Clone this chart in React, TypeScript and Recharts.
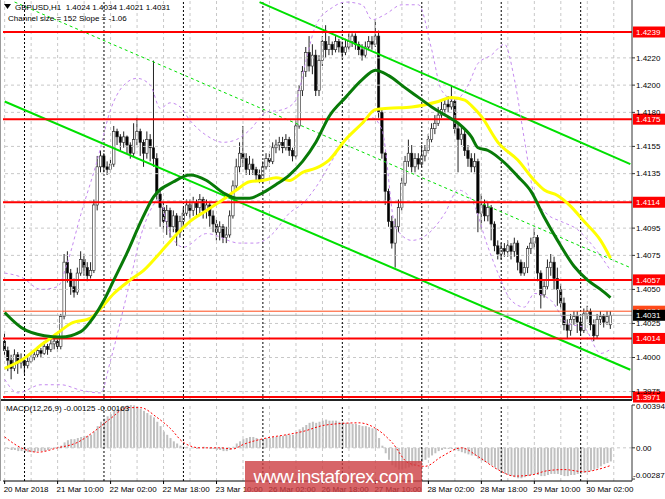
import { ComposedChart, Bar, Line, XAxis, YAxis, ReferenceLine } from "recharts";

const FONT = "'Liberation Sans', Arial, sans-serif";
const SLOTS = 190; // 184 hourly bars + empty shift on the right

// GBPUSD H1, [open, high, low, close], 20 Mar 18:00 .. 30 Mar 09:00
const ohlc: [number, number, number, number][] = [
  [1.4012, 1.4018, 1.4002, 1.4005], [1.4005, 1.4008, 1.399, 1.3998], [1.3998, 1.4002, 1.3984, 1.3992], [1.3992, 1.4006, 1.399, 1.4002],
  [1.4002, 1.4004, 1.3988, 1.3996], [1.3996, 1.4003, 1.3992, 1.3998], [1.3998, 1.4, 1.3988, 1.3994], [1.3994, 1.4001, 1.3992, 1.3997],
  [1.3997, 1.4003, 1.3996, 1.4], [1.4, 1.4005, 1.3998, 1.4002], [1.4002, 1.4008, 1.4, 1.4005], [1.4005, 1.4007, 1.4, 1.4003],
  [1.4003, 1.4012, 1.4002, 1.4008], [1.4008, 1.401, 1.4002, 1.4006], [1.4006, 1.4014, 1.4004, 1.401], [1.401, 1.4015, 1.4006, 1.4012],
  [1.4012, 1.4014, 1.4004, 1.4008], [1.4008, 1.4032, 1.4006, 1.403], [1.403, 1.4076, 1.4028, 1.407], [1.407, 1.4078, 1.4055, 1.4062],
  [1.4062, 1.4065, 1.4046, 1.4052], [1.4052, 1.4058, 1.4044, 1.4048], [1.4048, 1.4066, 1.4046, 1.4062], [1.4062, 1.4078, 1.406, 1.4072],
  [1.4072, 1.4076, 1.406, 1.4066], [1.4066, 1.407, 1.4056, 1.406], [1.406, 1.407, 1.4058, 1.4064], [1.4064, 1.4116, 1.4062, 1.4112],
  [1.4112, 1.4148, 1.4108, 1.414], [1.414, 1.4152, 1.4136, 1.4148], [1.4148, 1.415, 1.4136, 1.414], [1.414, 1.4144, 1.4134, 1.4138],
  [1.4138, 1.4146, 1.4136, 1.4142], [1.4142, 1.417, 1.414, 1.4166], [1.4166, 1.4168, 1.4156, 1.4162], [1.4162, 1.4164, 1.4152, 1.4158],
  [1.4158, 1.4166, 1.4154, 1.4162], [1.4162, 1.4163, 1.415, 1.4156], [1.4156, 1.4158, 1.4146, 1.415], [1.415, 1.4172, 1.4148, 1.416],
  [1.416, 1.4176, 1.4156, 1.4166], [1.4166, 1.4168, 1.4148, 1.4158], [1.4158, 1.416, 1.414, 1.415], [1.415, 1.4166, 1.4146, 1.416],
  [1.416, 1.4164, 1.4144, 1.4154], [1.4154, 1.4218, 1.414, 1.4146], [1.4146, 1.415, 1.4116, 1.412], [1.412, 1.4124, 1.4096, 1.411],
  [1.411, 1.4114, 1.4092, 1.41], [1.41, 1.4112, 1.409, 1.4108], [1.4108, 1.411, 1.4088, 1.4096], [1.4096, 1.4108, 1.4092, 1.4104],
  [1.4104, 1.4106, 1.4082, 1.4092], [1.4092, 1.4104, 1.4088, 1.41], [1.41, 1.411, 1.4096, 1.4106], [1.4106, 1.4116, 1.4104, 1.4112],
  [1.4112, 1.4116, 1.4102, 1.4108], [1.4108, 1.4118, 1.4104, 1.4114], [1.4114, 1.4116, 1.4104, 1.411], [1.411, 1.412, 1.4106, 1.4116],
  [1.4116, 1.4118, 1.4102, 1.4108], [1.4108, 1.4116, 1.4102, 1.4112], [1.4112, 1.4114, 1.4096, 1.4104], [1.4104, 1.4108, 1.4092, 1.4098],
  [1.4098, 1.4102, 1.4086, 1.4092], [1.4092, 1.41, 1.4086, 1.4096], [1.4096, 1.4098, 1.4084, 1.4088], [1.4088, 1.4096, 1.4084, 1.409],
  [1.409, 1.4108, 1.4088, 1.4104], [1.4104, 1.413, 1.4102, 1.4126], [1.4126, 1.4146, 1.4124, 1.414], [1.414, 1.4158, 1.4136, 1.415],
  [1.415, 1.417, 1.414, 1.4146], [1.4146, 1.415, 1.4134, 1.4138], [1.4138, 1.4148, 1.4134, 1.4142], [1.4142, 1.4146, 1.4134, 1.4138],
  [1.4138, 1.414, 1.413, 1.4134], [1.4134, 1.4138, 1.4128, 1.413], [1.413, 1.4144, 1.4128, 1.414], [1.414, 1.415, 1.4138, 1.4146],
  [1.4146, 1.415, 1.414, 1.4144], [1.4144, 1.4158, 1.4142, 1.4154], [1.4154, 1.416, 1.415, 1.4156], [1.4156, 1.4162, 1.4152, 1.4158],
  [1.4158, 1.4162, 1.415, 1.4154], [1.4154, 1.4164, 1.4152, 1.416], [1.416, 1.4162, 1.4148, 1.4152], [1.4152, 1.4154, 1.4144, 1.4148],
  [1.4148, 1.4174, 1.4146, 1.417], [1.417, 1.42, 1.4168, 1.4196], [1.4196, 1.4214, 1.4192, 1.421], [1.421, 1.4228, 1.4206, 1.4224],
  [1.4224, 1.4236, 1.421, 1.4214], [1.4214, 1.423, 1.4208, 1.4222], [1.4222, 1.4226, 1.4192, 1.4196], [1.4196, 1.4222, 1.4192, 1.4218],
  [1.4218, 1.4236, 1.4214, 1.4232], [1.4232, 1.4244, 1.422, 1.4226], [1.4226, 1.4236, 1.4222, 1.423], [1.423, 1.4232, 1.4222, 1.4226],
  [1.4226, 1.4236, 1.4224, 1.4232], [1.4232, 1.4234, 1.4224, 1.4228], [1.4228, 1.4232, 1.422, 1.4224], [1.4224, 1.4234, 1.4222, 1.4228],
  [1.4228, 1.4238, 1.4226, 1.4232], [1.4232, 1.4238, 1.4228, 1.4236], [1.4236, 1.4238, 1.4226, 1.423], [1.423, 1.4232, 1.4222, 1.4226],
  [1.4226, 1.423, 1.4218, 1.4222], [1.4222, 1.4232, 1.422, 1.4228], [1.4228, 1.4236, 1.4226, 1.4232], [1.4232, 1.4236, 1.4226, 1.423],
  [1.423, 1.4248, 1.4228, 1.4236], [1.4236, 1.424, 1.4176, 1.418], [1.418, 1.4182, 1.4146, 1.415], [1.415, 1.4151, 1.4112, 1.4122],
  [1.4122, 1.4124, 1.4096, 1.41], [1.41, 1.4104, 1.408, 1.4084], [1.4084, 1.4102, 1.4066, 1.4096], [1.4096, 1.4116, 1.4092, 1.411],
  [1.411, 1.4132, 1.4108, 1.4128], [1.4128, 1.4148, 1.4126, 1.4144], [1.4144, 1.416, 1.414, 1.415], [1.415, 1.4156, 1.4136, 1.414],
  [1.414, 1.415, 1.4136, 1.4146], [1.4146, 1.415, 1.4138, 1.4142], [1.4142, 1.4156, 1.414, 1.4148], [1.4148, 1.4156, 1.4144, 1.4152],
  [1.4152, 1.4164, 1.415, 1.416], [1.416, 1.4172, 1.4158, 1.4168], [1.4168, 1.4178, 1.4164, 1.4172], [1.4172, 1.4184, 1.417, 1.4178],
  [1.4178, 1.4188, 1.4176, 1.4182], [1.4182, 1.419, 1.4178, 1.4186], [1.4186, 1.4192, 1.418, 1.4184], [1.4184, 1.42, 1.4182, 1.4188],
  [1.4188, 1.419, 1.4164, 1.4168], [1.4168, 1.4172, 1.4136, 1.416], [1.416, 1.417, 1.4156, 1.4164], [1.4164, 1.4168, 1.4148, 1.4152],
  [1.4152, 1.4156, 1.414, 1.4146], [1.4146, 1.415, 1.4136, 1.414], [1.414, 1.415, 1.4136, 1.4144], [1.4144, 1.4146, 1.4092, 1.4106],
  [1.4106, 1.412, 1.4094, 1.4112], [1.4112, 1.4116, 1.41, 1.4104], [1.4104, 1.4114, 1.41, 1.411], [1.411, 1.4112, 1.4086, 1.4098],
  [1.4098, 1.41, 1.4078, 1.4082], [1.4082, 1.4086, 1.4072, 1.4076], [1.4076, 1.4084, 1.4072, 1.408], [1.408, 1.4084, 1.4074, 1.4078],
  [1.4078, 1.4086, 1.4074, 1.4082], [1.4082, 1.4084, 1.4072, 1.4078], [1.4078, 1.4088, 1.4074, 1.4084], [1.4084, 1.4086, 1.4064, 1.407],
  [1.407, 1.4072, 1.406, 1.4062], [1.4062, 1.407, 1.406, 1.4066], [1.4066, 1.4082, 1.4062, 1.408], [1.408, 1.4088, 1.4076, 1.4084],
  [1.4084, 1.4095, 1.408, 1.4088], [1.4088, 1.409, 1.4056, 1.4062], [1.4062, 1.4064, 1.4036, 1.4046], [1.4046, 1.4056, 1.4044, 1.4052],
  [1.4052, 1.4072, 1.405, 1.4066], [1.4066, 1.4076, 1.406, 1.407], [1.407, 1.4074, 1.405, 1.4058], [1.4058, 1.4066, 1.4038, 1.405],
  [1.405, 1.4054, 1.4036, 1.404], [1.404, 1.4044, 1.402, 1.4024], [1.4024, 1.4028, 1.4014, 1.402], [1.402, 1.4032, 1.4016, 1.4028],
  [1.4028, 1.4034, 1.4024, 1.403], [1.403, 1.4034, 1.4018, 1.4026], [1.4026, 1.403, 1.4016, 1.402], [1.402, 1.4036, 1.4018, 1.4032],
  [1.4032, 1.4038, 1.4028, 1.4034], [1.4034, 1.4036, 1.402, 1.4024], [1.4024, 1.4028, 1.4012, 1.4016], [1.4016, 1.4032, 1.4014, 1.4028],
  [1.4028, 1.4034, 1.4024, 1.403], [1.403, 1.4032, 1.4022, 1.4026], [1.4026, 1.4034, 1.4024, 1.403], [1.4024, 1.4034, 1.4021, 1.4031],
];

// MACD(12,26,9) main histogram, one per bar
const macdHist = [
  -0.00005, -0.0001, -0.0002, -0.0002, -0.0003, -0.0003, -0.0004, -0.0004, -0.0004, -0.0004, -0.0003, -0.0003, -0.0003, -0.0002, -0.0001, 0,
  0.0001, 0.0002, 0.0005, 0.0007, 0.0008, 0.0008, 0.0009, 0.001, 0.0011, 0.0011, 0.0012, 0.0015, 0.002, 0.0024, 0.0027, 0.0029,
  0.0031, 0.0034, 0.0036, 0.0037, 0.0038, 0.0039, 0.00394, 0.0039, 0.0038, 0.0036, 0.0034, 0.0032, 0.003, 0.0028, 0.0024, 0.002,
  0.0015, 0.0012, 0.0009, 0.0006, 0.0004, 0.0002, 0.0001, 0.0001, 0, 0, -0.0001, 0, 0.0001, 0, -0.0001, -0.0001,
  -0.0002, -0.0002, -0.0003, -0.0003, -0.0002, 0.0001, 0.0004, 0.0006, 0.0008, 0.0009, 0.001, 0.001, 0.0009, 0.0008, 0.0008, 0.0009,
  0.0009, 0.001, 0.001, 0.0011, 0.0011, 0.0012, 0.0012, 0.0012, 0.0014, 0.0017, 0.0019, 0.0021, 0.0023, 0.0024, 0.0023, 0.0024,
  0.0025, 0.0026, 0.0025, 0.0025, 0.0025, 0.0024, 0.0024, 0.0023, 0.0023, 0.0022, 0.0022, 0.0021, 0.002, 0.002, 0.0019, 0.0018,
  0.0018, 0.0009, 0.0002, -0.0005, -0.0011, -0.0016, -0.0018, -0.002, -0.002, -0.0019, -0.0018, -0.0017, -0.0016, -0.0014, -0.0013, -0.0011,
  -0.0009, -0.0007, -0.0005, -0.0003, -0.0002, -0.0001, -0.0001, -0.0001, -0.0002, -0.0003, -0.0004, -0.0005, -0.0006, -0.0007, -0.0007, -0.001,
  -0.0012, -0.0013, -0.0014, -0.0016, -0.0018, -0.002, -0.0022, -0.0024, -0.0025, -0.0026, -0.0027, -0.0028, -0.0028, -0.0027, -0.0026, -0.0025,
  -0.0024, -0.0025, -0.0026, -0.0026, -0.0025, -0.0024, -0.0024, -0.0024, -0.0025, -0.0026, -0.0026, -0.0025, -0.0025, -0.0024, -0.0024, -0.0023,
  -0.0022, -0.0021, -0.002, -0.0019, -0.0017, -0.0015, -0.0014, -0.00125,
];

// [bar index, value]
const macdSignal: [number, number][] = [
  [0, 0.001], [5, 0], [10, -0.0004], [16, 0], [22, 0.0005], [27, 0.0015], [32, 0.0027], [37, 0.0037], [41, 0.0037],
  [46, 0.0028], [50, 0.0018], [54, 0.0005], [59, 0], [65, 0], [69, -0.0001], [72, 0.0003], [79, 0.0009], [85, 0.0012],
  [90, 0.0015], [97, 0.0021], [107, 0.0023], [113, 0.0016], [117, 0.0005], [122, -0.0014], [127, -0.0017], [132, -0.0008],
  [138, 0], [143, -0.0008], [149, -0.002], [154, -0.0026], [159, -0.0025], [164, -0.0021], [169, -0.002], [175, -0.0022],
  [179, -0.002], [183, -0.00163],
];

const greenMA: [number, number][] = [
  [0, 1.4033], [5, 1.4022], [12, 1.4016], [17, 1.4015], [23, 1.4019], [27, 1.403], [30, 1.4042], [33, 1.4057], [37, 1.4077],
  [41, 1.4099], [45, 1.4118], [51, 1.4129], [56, 1.4134], [61, 1.413], [66, 1.4121], [70, 1.4117], [74, 1.4117], [78, 1.4121],
  [82, 1.4127], [86, 1.4134], [90, 1.4144], [94, 1.4158], [98, 1.4177], [103, 1.4191], [108, 1.4204], [112, 1.4211], [116, 1.4207],
  [121, 1.4198], [125, 1.4191], [129, 1.4184], [133, 1.4178], [137, 1.4172], [141, 1.4162], [143, 1.4154], [146, 1.4152],
  [151, 1.4143], [155, 1.4133], [159, 1.4122], [163, 1.4103], [167, 1.4086], [172, 1.4067], [176, 1.4057], [180, 1.405], [183, 1.4044],
];

const yellowMA: [number, number][] = [
  [0, 1.3992], [5, 1.3998], [12, 1.4011], [16, 1.4018], [20, 1.4025], [26, 1.4029], [29, 1.4036], [33, 1.4047], [38, 1.4057],
  [42, 1.4064], [47, 1.4077], [51, 1.4088], [56, 1.41], [61, 1.4108], [66, 1.4116], [70, 1.4123], [74, 1.4129], [78, 1.413],
  [82, 1.4132], [86, 1.413], [90, 1.4136], [94, 1.4139], [98, 1.4145], [103, 1.416], [108, 1.4172], [112, 1.4182], [116, 1.4183],
  [123, 1.4184], [131, 1.4188], [135, 1.4191], [139, 1.4189], [141, 1.4185], [144, 1.4177], [149, 1.4158], [155, 1.4145],
  [160, 1.413], [163, 1.4123], [167, 1.4119], [171, 1.4111], [175, 1.41], [180, 1.4086], [183, 1.4073],
];

const bandUpper: [number, number][] = [
  [0, 1.4062], [5, 1.4059], [11, 1.405], [16, 1.4052], [19, 1.407], [23, 1.4105], [28, 1.4145], [32, 1.4182], [36, 1.42],
  [40, 1.4205], [44, 1.42], [47, 1.4183], [50, 1.4187], [53, 1.4184], [56, 1.4174], [61, 1.4163], [66, 1.4158], [70, 1.416],
  [74, 1.4167], [79, 1.418], [84, 1.4182], [88, 1.4189], [91, 1.4218], [94, 1.4244], [99, 1.4257], [103, 1.4261], [108, 1.4259],
  [111, 1.4248], [115, 1.4252], [120, 1.4259], [125, 1.4259], [129, 1.4226], [132, 1.4196], [136, 1.4189], [140, 1.42],
  [143, 1.4216], [147, 1.4222], [151, 1.423], [154, 1.4204], [157, 1.416], [160, 1.4119], [164, 1.4105], [168, 1.41],
  [173, 1.4094], [178, 1.4081], [183, 1.4064],
];

const bandLower: [number, number][] = [
  [0, 1.3984], [4, 1.3974], [11, 1.398], [17, 1.398], [23, 1.3976], [29, 1.3974], [32, 1.3998], [37, 1.4047], [42, 1.4096],
  [47, 1.4116], [49, 1.4097], [54, 1.4081], [61, 1.4091], [71, 1.4084], [76, 1.4084], [81, 1.4091], [86, 1.4106], [90, 1.4113],
  [94, 1.4125], [99, 1.4145], [103, 1.416], [108, 1.4171], [111, 1.4176], [114, 1.4167], [118, 1.4096], [123, 1.4086],
  [128, 1.4091], [133, 1.4106], [137, 1.4123], [141, 1.4116], [146, 1.4081], [149, 1.4062], [153, 1.4042], [157, 1.4037],
  [160, 1.4047], [165, 1.4042], [170, 1.4025], [175, 1.4022], [180, 1.4003], [183, 1.4006],
];

// regression channel (two ends each)
const channelUpper: [number, number][] = [[77, 1.4261], [189, 1.4142]];
const channelMid: [number, number][] = [[3, 1.4261], [189, 1.4066]];
const channelLower: [number, number][] = [[0, 1.4188], [189, 1.3991]];

const levels = [1.4239, 1.4175, 1.4114, 1.4057, 1.4014, 1.3971];
const askPrice = 1.4034;
const bidPrice = 1.4031;
const priceTicks = [1.422, 1.42, 1.418, 1.4155, 1.4135, 1.4095, 1.4075, 1.405, 1.4025, 1.4, 1.3975];
const gridPrices = [...priceTicks, 1.4115];
const macdTicks = [0.00394, 0, -0.00287];
const daySeps = [6, 30, 54, 78, 102, 126, 150, 174];
const timeIdx = [0, 16, 32, 48, 64, 80, 96, 112, 128, 144, 160, 176];
const timeLabels = [
  "20 Mar 2018", "21 Mar 10:00", "22 Mar 02:00", "22 Mar 18:00", "23 Mar 10:00", "26 Mar 02:00",
  "26 Mar 18:00", "27 Mar 10:00", "28 Mar 02:00", "28 Mar 18:00", "29 Mar 10:00", "30 Mar 02:00",
];
const gridIdx = Array.from({ length: 24 }, (_, k) => k * 8);

const rows: Record<string, any>[] = Array.from({ length: SLOTS }, (_, i) => ({ i }));
ohlc.forEach(([o, h, l, c], i) => Object.assign(rows[i], { o, h, l, c, range: [l, h], macd: macdHist[i] }));
const put = (pts: [number, number][], key: string) => pts.forEach(([i, v]) => (rows[i][key] = v));
put(greenMA, "ma1");
put(yellowMA, "ma2");
put(bandUpper, "bbUp");
put(bandLower, "bbLo");
put(macdSignal, "signal");

const seg = (pts: [number, number][]) => pts.map(([x, y]) => ({ x, y }));

function Candle(props: any) {
  const { x, y, width, height, payload } = props;
  if (!payload || payload.o == null || !height) return null;
  const { o, h, l, c } = payload;
  const k = height / (h - l);
  const cx = x + width / 2;
  const top = y + (h - Math.max(o, c)) * k;
  const bot = y + (h - Math.min(o, c)) * k;
  const up = c >= o;
  return (
    <g>
      <line x1={cx} x2={cx} y1={y} y2={y + height} stroke="#222" strokeWidth={1} />
      <rect
        x={cx - 1.2}
        y={top}
        width={2.4}
        height={Math.max(bot - top, 0.8)}
        fill={up ? "#fff" : "#000"}
        stroke="#222"
        strokeWidth={0.6}
      />
    </g>
  );
}

function PriceTag(props: any) {
  const { viewBox, text, bg } = props;
  if (!viewBox) return null;
  const x = viewBox.x + viewBox.width + 1;
  const y = viewBox.y;
  return (
    <g>
      <rect x={x} y={y - 5.5} width={32} height={11} fill={bg} />
      <text x={x + 3} y={y} dy="0.35em" fontSize={8} fill="#fff" fontFamily={FONT}>
        {text}
      </text>
    </g>
  );
}

function TimeTick(props: any) {
  const { x, y, payload } = props;
  const idx = timeIdx.indexOf(payload.value);
  return (
    <text x={x - 1} y={y} dy="0.71em" fontSize={8} fill="#000" fontFamily={FONT} textAnchor="start">
      {timeLabels[idx]}
    </text>
  );
}

// MT4 keeps the extreme labels inside the sub-window
function MacdTick(props: any) {
  const { x, y, payload } = props;
  const v = payload.value;
  const low = v === macdTicks[2];
  const shift = low ? -4 : v === macdTicks[0] ? 1 : 0;
  return (
    <text x={low ? x - 3 : x} y={y + shift} dy="0.355em" fontSize={8} fill="#000" fontFamily={FONT} textAnchor="start">
      {v === 0 ? "0.00" : v.toFixed(5)}
    </text>
  );
}

const gridStroke = "#c8c8c8";

export default function App() {
  return (
    <div style={{ position: "absolute", left: 0, top: 0, width: 665, height: 499, background: "#fff", overflow: "hidden", fontFamily: FONT }}>
      <div style={{ position: "absolute", left: 0, top: 0 }}>
        <ComposedChart width={665} height={404} data={rows} margin={{ top: 0, right: 0, bottom: 4, left: 3 }} barCategoryGap={0}>
          <XAxis dataKey="i" hide />
          <YAxis
            orientation="right"
            width={33}
            domain={[1.39688, 1.42625]}
            allowDataOverflow
            ticks={priceTicks}
            interval={0}
            tickFormatter={(v: number) => v.toFixed(4)}
            tick={{ fontSize: 8, fill: "#000", fontFamily: FONT }}
            tickSize={3}
            tickMargin={1}
            axisLine={{ stroke: "#333" }}
            tickLine={{ stroke: "#333" }}
          />
          {gridPrices.map((p) => (
            <ReferenceLine key={"gp" + p} y={p} stroke={gridStroke} strokeDasharray="3 3" />
          ))}
          {gridIdx.map((i) => (
            <ReferenceLine key={"gx" + i} x={i} stroke={gridStroke} strokeDasharray="3 3" />
          ))}
          {daySeps.map((i) => (
            <ReferenceLine key={"d" + i} x={i} stroke="#000" strokeDasharray="2 2" />
          ))}
          <ReferenceLine segment={seg(channelUpper)} stroke="#00e000" strokeWidth={2} ifOverflow="hidden" />
          <ReferenceLine segment={seg(channelMid)} stroke="#00e000" strokeDasharray="3 3" ifOverflow="hidden" />
          <ReferenceLine segment={seg(channelLower)} stroke="#00e000" strokeWidth={2} ifOverflow="hidden" />
          <Line dataKey="bbUp" type="monotone" connectNulls dot={false} activeDot={false} stroke="#c58af0" strokeDasharray="3 3" strokeWidth={1} isAnimationActive={false} />
          <Line dataKey="bbLo" type="monotone" connectNulls dot={false} activeDot={false} stroke="#c58af0" strokeDasharray="3 3" strokeWidth={1} isAnimationActive={false} />
          <ReferenceLine y={bidPrice} stroke="#a8a8a8" />
          <ReferenceLine y={askPrice} stroke="#ff4a1a" label={<PriceTag text={askPrice.toFixed(4)} bg="#ff4a1a" />} />
          <ReferenceLine y={bidPrice} stroke="none" label={<PriceTag text={bidPrice.toFixed(4)} bg="#000" />} />
          {levels.map((p) => (
            <ReferenceLine key={"lv" + p} y={p} stroke="#ff0000" strokeWidth={2} label={<PriceTag text={p.toFixed(4)} bg="#ff0000" />} />
          ))}
          <Bar dataKey="range" barSize={3} shape={<Candle />} isAnimationActive={false} />
          <Line dataKey="ma2" type="monotone" connectNulls dot={false} activeDot={false} stroke="#ffff00" strokeWidth={3} isAnimationActive={false} />
          <Line dataKey="ma1" type="monotone" connectNulls dot={false} activeDot={false} stroke="#087a08" strokeWidth={3} isAnimationActive={false} />
        </ComposedChart>
      </div>

      <div style={{ position: "absolute", left: 0, top: 399, width: 632, height: 2, background: "#222" }} />

      <div style={{ position: "absolute", left: 0, top: 401 }}>
        <ComposedChart width={665} height={98} data={rows} margin={{ top: 4, right: 0, bottom: 0, left: 3 }} barCategoryGap={0}>
          <XAxis
            dataKey="i"
            ticks={timeIdx}
            interval={0}
            tick={<TimeTick />}
            tickSize={3}
            height={18}
            axisLine={{ stroke: "#000" }}
            tickLine={{ stroke: "#000" }}
          />
          <YAxis
            orientation="right"
            width={33}
            domain={[-0.00305, 0.00394]}
            allowDataOverflow
            ticks={macdTicks}
            interval={0}
            tick={<MacdTick />}
            tickSize={3}
            tickMargin={1}
            axisLine={{ stroke: "#333" }}
            tickLine={{ stroke: "#333" }}
          />
          <ReferenceLine y={0} stroke={gridStroke} strokeDasharray="3 3" />
          {gridIdx.map((i) => (
            <ReferenceLine key={"mx" + i} x={i} stroke={gridStroke} strokeDasharray="3 3" />
          ))}
          {daySeps.map((i) => (
            <ReferenceLine key={"md" + i} x={i} stroke="#000" strokeDasharray="2 2" />
          ))}
          <Bar dataKey="macd" barSize={2} fill="#c0c0c0" isAnimationActive={false} />
          <Line dataKey="signal" type="monotone" connectNulls dot={false} activeDot={false} stroke="#ff0000" strokeDasharray="2 2" strokeWidth={1} isAnimationActive={false} />
        </ComposedChart>
      </div>

      <div style={{ position: "absolute", left: 0, top: 0, width: 1, height: 481, background: "#9a9a9a" }} />

      <svg style={{ position: "absolute", left: 4, top: 4 }} width={7} height={6}>
        <polygon points="0,0 7,0 3.5,5" fill="#000" />
      </svg>
      <div style={{ position: "absolute", left: 15, top: 2, fontSize: 8, lineHeight: "11px", whiteSpace: "pre", color: "#000" }}>
        {"GBPUSD,H1  1.4024 1.4034 1.4021 1.4031"}
      </div>
      <div style={{ position: "absolute", left: 8, top: 13, fontSize: 8, lineHeight: "11px", whiteSpace: "pre", color: "#000" }}>
        {"Channel size = 152 Slope = -1.06"}
      </div>
      <div style={{ position: "absolute", left: 6, top: 403, fontSize: 8, lineHeight: "11px", whiteSpace: "pre", color: "#000" }}>
        {"MACD(12,26,9) -0.00125 -0.00163"}
      </div>

      <div
        style={{
          position: "absolute",
          left: 245,
          top: 461,
          width: 177,
          height: 31,
          background: "rgba(205, 62, 66, 0.8)",
          color: "#fff",
          fontSize: 19,
          letterSpacing: -0.5,
          lineHeight: "31px",
          textAlign: "center",
        }}
      >
        www.instaforex.com
      </div>
    </div>
  );
}
